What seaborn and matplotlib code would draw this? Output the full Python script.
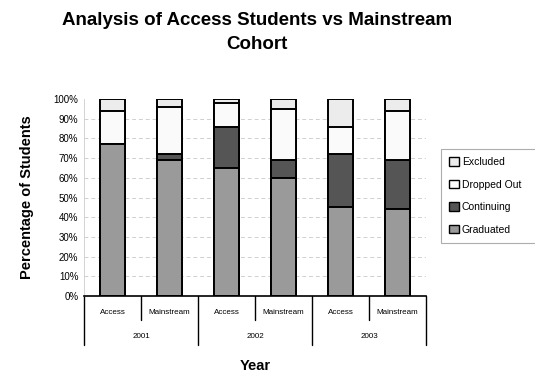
import matplotlib
matplotlib.use("Agg")
import matplotlib.pyplot as plt
import matplotlib.patches as mpatches
import pandas as pd
import seaborn as sns

# data (percent of students)
GROUPS = ["Access", "Mainstream", "Access", "Mainstream", "Access", "Mainstream"]
YEARS = ["2001", "2002", "2003"]
GRADUATED = [77, 69, 65, 60, 45, 44]
CONTINUING = [0, 3, 21, 9, 27, 25]
DROPPED_OUT = [17, 24, 12, 26, 14, 25]
EXCLUDED = [6, 4, 2, 5, 14, 6]

COLORS = {
    "Excluded": "#ececec",
    "Dropped Out": "#fafafa",
    "Continuing": "#555555",
    "Graduated": "#9a9a9a",
}

sns.set_style("white")
plt.rcParams["font.family"] = ["Liberation Sans", "DejaVu Sans"]
plt.rcParams["text.color"] = "black"
plt.rcParams["axes.labelcolor"] = "black"
plt.rcParams["ytick.color"] = "black"

slots = [f"{g} {YEARS[i // 2]}" for i, g in enumerate(GROUPS)]
df = pd.DataFrame({
    "slot": slots,
    "Graduated": GRADUATED,
    "Continuing": CONTINUING,
    "Dropped Out": DROPPED_OUT,
    "Excluded": EXCLUDED,
})
# cumulative tops, drawn from the top layer down so each overlays the next
df["top_Graduated"] = df["Graduated"]
df["top_Continuing"] = df["top_Graduated"] + df["Continuing"]
df["top_Dropped Out"] = df["top_Continuing"] + df["Dropped Out"]
df["top_Excluded"] = df["top_Dropped Out"] + df["Excluded"]

fig = plt.figure(figsize=(5.35, 3.72), dpi=100)
ax = fig.add_axes([84 / 535, 1 - 296 / 372, 342 / 535, 197 / 372])

for ax_y in range(10, 100, 10):
    ax.axhline(ax_y, color="#d0d0d0", linestyle=(0, (4, 3)), linewidth=0.7, zorder=0)

for series in ["Excluded", "Dropped Out", "Continuing", "Graduated"]:
    sns.barplot(data=df, x="slot", y=f"top_{series}", ax=ax, color=COLORS[series],
                edgecolor="black", linewidth=1.4, width=0.44, saturation=1,
                errorbar=None, zorder=2)

ax.set_xlim(-0.5, 5.5)
ax.set_ylim(0, 100)
ax.set_yticks(range(0, 101, 10))
ax.set_yticklabels([f"{v}%" for v in range(0, 101, 10)], fontsize=7)
ax.set_xticks([])
ax.set_xlabel("")
ax.set_ylabel("Percentage of Students", fontsize=10.5, fontweight="bold", labelpad=14)
ax.tick_params(axis="y", length=0, pad=4)
for side in ["top", "right"]:
    ax.spines[side].set_visible(False)
ax.spines["left"].set_color("#cccccc")
ax.spines["left"].set_linewidth(0.6)
ax.spines["bottom"].set_color("black")
ax.spines["bottom"].set_linewidth(1.2)

# two-level category axis
trans = ax.get_xaxis_transform()
for xb in [-0.5, 1.5, 3.5, 5.5]:
    ax.plot([xb, xb], [0, -0.25], color="black", linewidth=1.0, transform=trans, clip_on=False)
for xb in [0.5, 2.5, 4.5]:
    ax.plot([xb, xb], [0, -0.122], color="black", linewidth=1.0, transform=trans, clip_on=False)
for i, g in enumerate(GROUPS):
    ax.text(i, -0.085, g, transform=trans, ha="center", va="center", fontsize=5.8)
for j, y in enumerate(YEARS):
    ax.text(2 * j + 0.5, -0.208, y, transform=trans, ha="center", va="center", fontsize=5.8)
ax.text(2.5, -0.355, "Year", transform=trans, ha="center", va="center",
        fontsize=10.5, fontweight="bold")

fig.suptitle("Analysis of Access Students vs Mainstream\nCohort", x=257 / 535, y=0.968,
             fontsize=13.5, fontweight="bold", linespacing=1.55)

handles = [mpatches.Patch(facecolor=COLORS[s], edgecolor="black", linewidth=1.0, label=s)
           for s in ["Excluded", "Dropped Out", "Continuing", "Graduated"]]
leg = fig.legend(handles=handles, loc="center left",
                 bbox_to_anchor=(441 / 535, 1 - 242 / 372, 100 / 535, 92 / 372),
                 mode="expand", fontsize=7.5, frameon=True, fancybox=False, shadow=False,
                 handlelength=0.9, handleheight=0.9, handletextpad=0.3,
                 labelspacing=1.2, borderpad=0.8, borderaxespad=0)
leg.get_frame().set_edgecolor("#999999")
leg.get_frame().set_linewidth(0.8)

fig.savefig("out.png", dpi=100)
